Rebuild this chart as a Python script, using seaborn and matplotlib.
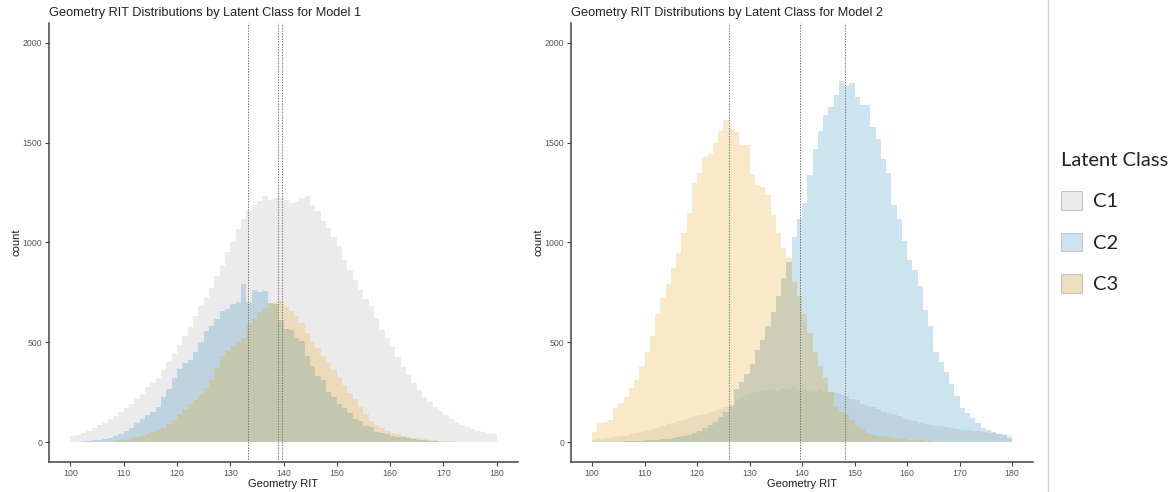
import numpy as np
import pandas as pd
import matplotlib
matplotlib.use("Agg")
import matplotlib.pyplot as plt
from matplotlib.patches import Patch
from matplotlib.lines import Line2D
import seaborn as sns

# ---------------- data (counts per 1-point RIT bin, 100..179) ----------------
rit_left_edges = list(range(100, 180))
classes = ["C1", "C2", "C3"]
titles = ["Geometry RIT Distributions by Latent Class for Model 1",
          "Geometry RIT Distributions by Latent Class for Model 2"]

m1_c1 = [30, 35, 45, 55, 70, 85, 95, 115, 130, 150,
         170, 190, 215, 240, 275, 295, 320, 360, 400, 440,
         485, 530, 575, 630, 680, 720, 770, 830, 880, 950,
         1000, 1070, 1120, 1160, 1190, 1210, 1235, 1215, 1225, 1230,
         1215, 1200, 1205, 1225, 1235, 1190, 1160, 1110, 1075, 1030,
         980, 910, 860, 810, 760, 715, 680, 620, 560, 520,
         475, 425, 375, 335, 295, 260, 225, 200, 175, 155,
         135, 115, 100, 85, 75, 65, 55, 50, 45, 40]
m1_c2 = [0, 0, 3, 5, 8, 10, 15, 20, 28, 40,
         55, 70, 95, 115, 135, 150, 175, 225, 265, 320,
         365, 395, 410, 450, 500, 555, 580, 615, 655, 665,
         690, 700, 790, 700, 760, 750, 755, 695, 690, 610,
         565, 560, 520, 505, 430, 380, 330, 310, 250, 225,
         190, 170, 145, 115, 105, 80, 75, 50, 45, 40,
         30, 27, 25, 18, 14, 12, 10, 6, 4, 2,
         0, 0, 0, 0, 0, 0, 0, 0, 0, 0]
m1_c3 = [0, 0, 0, 0, 0, 0, 0, 0, 3, 8,
         12, 18, 25, 32, 40, 50, 60, 72, 88, 110,
         140, 165, 190, 210, 235, 270, 310, 370, 430, 460,
         480, 500, 520, 590, 620, 650, 670, 698, 700, 705,
         675, 655, 630, 595, 545, 505, 470, 430, 395, 360,
         320, 285, 245, 215, 175, 140, 105, 85, 70, 57,
         47, 38, 30, 26, 22, 18, 13, 10, 8, 6,
         4, 3, 2, 0, 0, 0, 0, 0, 0, 0]

m2_c1 = [10, 15, 18, 20, 25, 30, 30, 40, 45, 50,
         55, 65, 70, 80, 90, 95, 105, 110, 120, 130,
         135, 140, 150, 155, 165, 175, 185, 210, 225, 235,
         245, 250, 255, 260, 265, 258, 270, 265, 272, 262,
         268, 258, 250, 262, 255, 250, 245, 235, 230, 215,
         210, 190, 180, 175, 165, 150, 145, 140, 130, 115,
         110, 105, 95, 90, 85, 80, 80, 75, 70, 65,
         60, 60, 55, 55, 50, 45, 45, 40, 40, 35]
m2_c2 = [0, 0, 0, 0, 0, 2, 3, 4, 5, 6,
         8, 10, 12, 14, 16, 20, 25, 30, 35, 45,
         55, 70, 85, 100, 125, 150, 180, 265, 300, 340,
         390, 460, 510, 580, 650, 730, 820, 900, 1030, 1120,
         1200, 1340, 1470, 1560, 1640, 1680, 1740, 1810, 1785, 1800,
         1730, 1690, 1690, 1580, 1520, 1420, 1350, 1190, 1120, 1010,
         910, 860, 780, 660, 580, 450, 400, 350, 290, 230,
         170, 145, 120, 95, 70, 58, 50, 42, 35, 20]
m2_c3 = [50, 95, 100, 110, 170, 195, 225, 270, 310, 380,
         450, 530, 640, 720, 790, 870, 945, 1050, 1150, 1300,
         1350, 1430, 1445, 1500, 1560, 1615, 1570, 1555, 1490, 1490,
         1345, 1290, 1280, 1240, 1140, 1050, 970, 920, 800, 730,
         640, 545, 450, 380, 320, 250, 175, 150, 140, 110,
         80, 65, 45, 35, 30, 28, 25, 22, 18, 14,
         12, 10, 8, 5, 3, 2, 0, 0, 0, 0,
         0, 0, 0, 0, 0, 0, 0, 0, 0, 0]

# class means (dotted reference lines)
m1_means = [139.8, 133.3, 139.0]
m2_means = [139.7, 148.1, 126.1]

# ---------------- style ----------------
col_c1 = "#EBEBEB"
col_c2 = "#CCE3F0"
col_c3 = "#FAE9C9"
col_c12 = "#BDD3DF"
col_c13 = "#ECDBBA"
col_c23 = "#CCCFB6"
col_c123 = "#C3C7AE"
legend_cols = ["#EBEBEB", "#CCE3F0", "#EEDFBE"]

sns.set_style("ticks")
plt.rcParams["font.family"] = ["Liberation Sans", "DejaVu Sans"]

centers = np.array(rit_left_edges, dtype=float) + 0.5

fig = plt.figure(figsize=(11.76, 4.92), dpi=100)
ax1 = fig.add_axes([49 / 1176, 30 / 492, (518 - 49) / 1176, (462 - 23) / 492])
ax2 = fig.add_axes([571 / 1176, 30 / 492, (1033 - 571) / 1176, (462 - 23) / 492])


def draw_panel(ax, c1, c2, c3, means, title):
    a, b, c = np.array(c1, float), np.array(c2, float), np.array(c3, float)
    layers = [(a, col_c1), (b, col_c2), (c, col_c3),
              (np.minimum(a, b), col_c12), (np.minimum(a, c), col_c13),
              (np.minimum(b, c), col_c23),
              (np.minimum(np.minimum(a, b), c), col_c123)]
    for w, col in layers:
        df = pd.DataFrame({"rit": centers, "count": w})
        sns.histplot(data=df, x="rit", weights="count", binwidth=1,
                     binrange=(100, 180),
                     element="step", fill=True, color=col, alpha=1,
                     linewidth=0, ax=ax)
    for m in means:
        ax.axvline(m, color="#6E6E6E", lw=0.65, linestyle=(0, (1.6, 1.4)), zorder=5)
    ax.set_xlim(96, 184)
    ax.set_ylim(-100, 2100)
    ax.set_xticks(range(100, 181, 10))
    ax.set_yticks([0, 500, 1000, 1500, 2000])
    ax.set_xlabel("Geometry RIT", fontsize=8, color="#1a1a1a", labelpad=1)
    ax.set_ylabel("count", fontsize=8, color="#1a1a1a", labelpad=1)
    ax.set_title(title, loc="left", fontsize=9.2, color="#222222", pad=5)
    for s in ["top", "right"]:
        ax.spines[s].set_visible(False)
    for s in ["left", "bottom"]:
        ax.spines[s].set_color("#444444")
        ax.spines[s].set_linewidth(1.1)
    ax.tick_params(axis="both", labelsize=6.3, labelcolor="#555555",
                   color="#444444", length=3, width=0.8, pad=2)
    ax.set_facecolor("white")


draw_panel(ax1, m1_c1, m1_c2, m1_c3, m1_means, titles[0])
draw_panel(ax2, m2_c1, m2_c2, m2_c3, m2_means, titles[1])

# separator line
fig.add_artist(Line2D([1047.5 / 1176, 1047.5 / 1176], [0, 1], transform=fig.transFigure,
                      color="#D4D4D4", lw=1))

handles = [Patch(facecolor=legend_cols[i], edgecolor="#C4C4C4", linewidth=0.8, label=classes[i])
           for i in range(3)]
leg = fig.legend(handles=handles, title="Latent Class", loc="upper left",
                 bbox_to_anchor=(1061 / 1176, 1 - 152 / 492), frameon=False,
                 prop={"family": "Lato", "size": 14.5},
                 title_fontproperties={"family": "Lato", "size": 14.5},
                 handlelength=1.05, handleheight=1.05, labelspacing=1.1,
                 handletextpad=0.55, borderpad=0, borderaxespad=0)
leg._legend_box.align = "left"
for t in leg.get_texts():
    t.set_color("#222222")
leg.get_title().set_color("#222222")

fig.savefig("out.png", dpi=100)
